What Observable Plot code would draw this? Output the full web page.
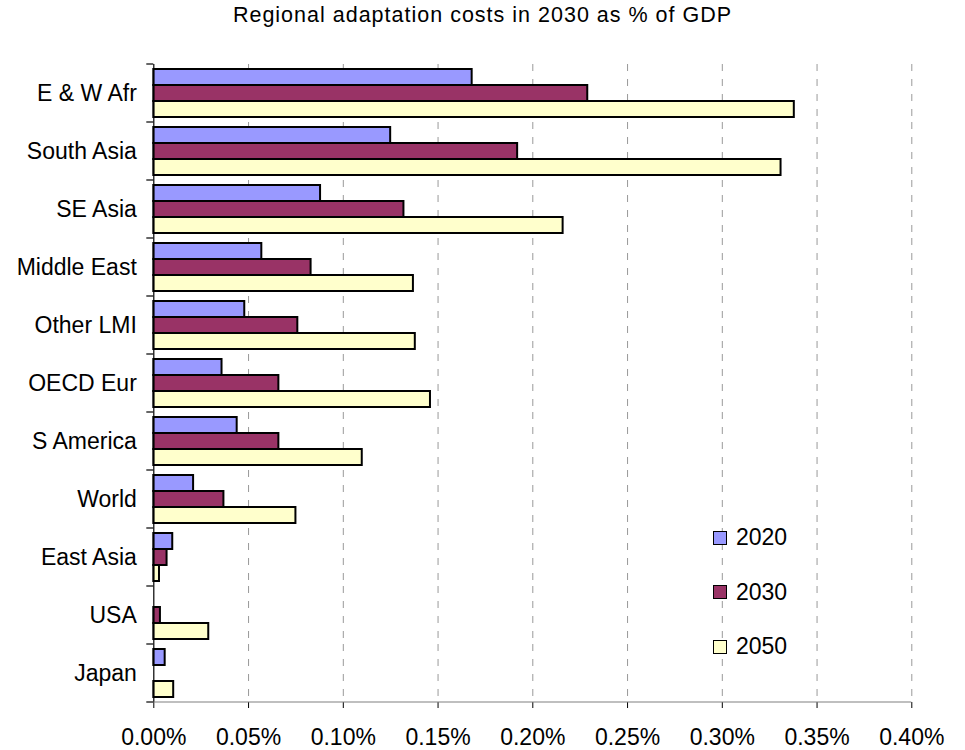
<!DOCTYPE html>
<html>
<head>
<meta charset="utf-8">
<script src="https://cdn.jsdelivr.net/npm/d3@7"></script>
<script src="https://cdn.jsdelivr.net/npm/@observablehq/plot@0.6"></script>
<style>
  html, body { margin: 0; padding: 0; background: #fff; }
  #wrap { position: relative; width: 965px; height: 750px; font-family: "Liberation Sans", Arial, sans-serif; }
  #title { height: 40px; line-height: 30px; text-align: center; font-size: 21.5px; letter-spacing: 1px; color: #000; }
  #legend { position: absolute; left: 713px; top: 524px; }
  .lg-row { display: flex; align-items: center; height: 27px; margin-bottom: 27.5px; font-size: 23px; }
  .lg-sw { width: 12px; height: 12px; border: 1.8px solid #000; margin-right: 9px; box-sizing: content-box; }
</style>
</head>
<body>
<div id="wrap">
  <div id="title">Regional adaptation costs in 2030 as % of GDP</div>
  <div id="chart"></div>
  <div id="legend"></div>
</div>
<script>
const regions = ["E & W Afr", "South Asia", "SE Asia", "Middle East", "Other LMI", "OECD Eur", "S America", "World", "East Asia", "USA", "Japan"];
const years = ["2020", "2030", "2050"];
const v2020 = [0.168, 0.125, 0.088, 0.057, 0.048, 0.036, 0.044, 0.021, 0.010, 0, 0.006];
const v2030 = [0.229, 0.192, 0.132, 0.083, 0.076, 0.066, 0.066, 0.037, 0.007, 0.0035, 0];
const v2050 = [0.338, 0.331, 0.216, 0.137, 0.138, 0.146, 0.110, 0.075, 0.003, 0.029, 0.0105];
const colors = ["#9999FF", "#993366", "#FFFFCC"];
const xTicks = [0, 0.05, 0.10, 0.15, 0.20, 0.25, 0.30, 0.35, 0.40];

const series = [v2020, v2030, v2050];
const data = [];
regions.forEach((r, i) => years.forEach((y, j) => data.push({region: r, year: y, value: series[j][i]})));

const plot = Plot.plot({
  width: 965,
  height: 710,
  marginTop: 23,
  marginBottom: 46.5,
  marginLeft: 153.3,
  marginRight: 53.7,
  style: {fontSize: "23px", fontFamily: "Liberation Sans, Arial, sans-serif", color: "#000", background: "#fff"},
  fy: {domain: regions, padding: 0, label: null, tickSize: 0, tickPadding: 17},
  y: {domain: years, paddingInner: 0, paddingOuter: 0.233, axis: null},
  x: {domain: [0, 0.4], ticks: xTicks, tickFormat: d => d.toFixed(2) + "%", tickSize: 6, tickPadding: 20, label: null},
  color: {domain: years, range: colors},
  marks: [
    Plot.ruleX(xTicks.slice(1), {stroke: "#999", strokeWidth: 1, strokeDasharray: "7,8"}),
    Plot.barX(data.filter(d => d.value > 0), {fy: "region", y: "year", x: "value", fill: "year", stroke: "#000", strokeWidth: 2}),
    Plot.ruleX([0], {stroke: "#000", strokeWidth: 1.2})
  ]
});
document.getElementById("chart").appendChild(plot);

const fy = plot.scale("fy");
const xs = plot.scale("x");
const bounds = regions.map(r => fy.apply(r));
const yEnd = fy.apply(regions[regions.length - 1]) + fy.bandwidth;
bounds.push(yEnd);
const x0 = xs.apply(0);
const svg = d3.select(plot);

// bottom axis line (grey, Excel style)
svg.append("line")
  .attr("x1", x0).attr("x2", xs.apply(0.4))
  .attr("y1", yEnd).attr("y2", yEnd)
  .attr("stroke", "#808080").attr("stroke-width", 1.2);

// category boundary ticks on the left axis
svg.append("g")
  .attr("stroke", "#000")
  .attr("stroke-width", 1.2)
  .selectAll("line")
  .data(bounds)
  .join("line")
  .attr("x1", x0 - 7).attr("x2", x0)
  .attr("y1", d => d).attr("y2", d => d);

// legend
const cs = plot.scale("color");
const lg = d3.select("#legend");
cs.domain.forEach((y, i) => {
  const row = lg.append("div").attr("class", "lg-row");
  row.append("div").attr("class", "lg-sw").style("background", cs.range[i]);
  row.append("span").text(y);
});
</script>
</body>
</html>
